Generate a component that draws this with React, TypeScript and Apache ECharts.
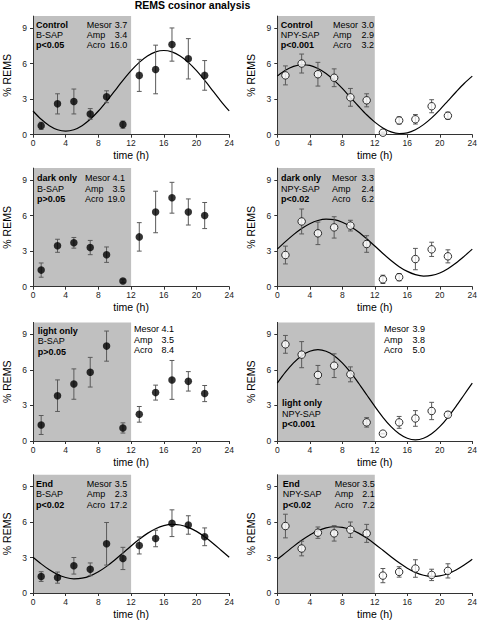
import React, { useEffect, useRef } from 'react';
import * as echarts from 'echarts';

// ---------- data ----------
const chartTitle = 'REMS cosinor analysis';
const xName = 'time (h)';
const yName = '% REMS';
const xTicks = [0, 4, 8, 12, 16, 20, 24];
const yTicks = [0, 3, 6, 9];
const sampleHours = [1, 3, 5, 7, 9, 11, 13, 15, 17, 19, 21];
const curveHours = [0, 1, 2, 3, 4, 5, 6, 7, 8, 9, 10, 11, 12, 13, 14, 15, 16, 17, 18, 19, 20, 21, 22, 23, 24];
const shadeStart = 0;
const shadeEnd = 12;

const panelNames = ['Control', 'Control', 'dark only', 'dark only', 'light only', 'light only', 'End', 'End'];
const treatments = ['B-SAP', 'NPY-SAP', 'B-SAP', 'NPY-SAP', 'B-SAP', 'NPY-SAP', 'B-SAP', 'NPY-SAP'];
const pValues = ['p<0.05', 'p<0.001', 'p>0.05', 'p<0.02', 'p>0.05', 'p<0.001', 'p<0.02', 'p<0.02'];
const statNames = ['Mesor', 'Amp', 'Acro'];
const mesors = ['3.7', '3.0', '4.1', '3.3', '4.1', '3.9', '3.5', '3.5'];
const amps = ['3.4', '2.9', '3.5', '2.4', '3.5', '3.8', '2.3', '2.1'];
const acros = ['16.0', '3.2', '19.0', '6.2', '8.4', '5.0', '17.2', '7.2'];

// Control
const controlBsapMean = [0.75, 2.6, 2.8, 1.75, 3.2, 0.85, 5.0, 5.5, 7.6, 6.4, 5.0];
const controlBsapSem = [0.3, 0.85, 1.05, 0.45, 0.5, 0.3, 1.35, 2.05, 1.4, 1.7, 1.25];
const controlBsapCurve = [2.0, 1.3, 0.76, 0.42, 0.3, 0.42, 0.76, 1.3, 2.0, 2.82, 3.7, 4.58, 5.4, 6.1, 6.64, 6.98, 7.1, 6.98, 6.64, 6.1, 5.4, 4.58, 3.7, 2.82, 2.0];
const controlNpyMean = [5.0, 6.0, 5.1, 4.8, 3.15, 2.9, 0.17, 1.2, 1.3, 2.4, 1.6];
const controlNpySem = [0.8, 0.8, 1.0, 0.75, 0.75, 0.55, 0.05, 0.3, 0.4, 0.55, 0.3];
const controlNpyCurve = [4.94, 5.43, 5.76, 5.9, 5.84, 5.58, 5.16, 4.58, 3.9, 3.15, 2.4, 1.68, 1.06, 0.57, 0.24, 0.1, 0.16, 0.42, 0.85, 1.42, 2.1, 2.85, 3.6, 4.32, 4.94];
// dark only
const darkBsapMean = [1.4, 3.45, 3.7, 3.3, 2.7, 0.48, 4.2, 6.3, 7.5, 6.3, 6.0];
const darkBsapSem = [0.6, 0.55, 0.45, 0.6, 0.65, 0.15, 1.2, 1.75, 1.3, 1.1, 1.1];
const darkNpyMean = [2.67, 5.5, 4.5, 5.0, 5.15, 3.6, 0.62, 0.8, 2.33, 3.15, 2.56];
const darkNpySem = [0.75, 1.05, 0.95, 0.9, 0.45, 0.7, 0.35, 0.3, 0.9, 0.6, 0.55];
const darkNpyCurve = [3.17, 3.8, 4.39, 4.91, 5.31, 5.58, 5.7, 5.65, 5.44, 5.08, 4.61, 4.04, 3.43, 2.8, 2.21, 1.69, 1.29, 1.02, 0.9, 0.95, 1.16, 1.52, 1.99, 2.56, 3.17];
// light only
const lightBsapMean = [1.35, 3.82, 4.8, 5.8, 8.0, 1.1, 2.25, 4.08, 5.15, 5.03, 4.0];
const lightBsapSem = [0.8, 1.33, 1.28, 1.25, 1.27, 0.43, 0.66, 0.63, 1.64, 0.82, 0.68];
const lightNpyMean = [8.15, 7.28, 5.57, 6.35, 5.62, 1.57, 0.62, 1.57, 1.9, 2.53, 2.22];
const lightNpySem = [0.75, 1.1, 0.8, 1.0, 0.63, 0.4, 0.03, 0.5, 0.66, 0.73, 0.25];
const lightNpyCurve = [4.88, 5.8, 6.59, 7.19, 7.57, 7.7, 7.57, 7.19, 6.59, 5.8, 4.88, 3.9, 2.92, 2.0, 1.21, 0.61, 0.23, 0.1, 0.23, 0.61, 1.21, 2.0, 2.92, 3.9, 4.88];
// End
const endBsapMean = [1.39, 1.3, 2.3, 2.0, 4.16, 2.92, 4.02, 4.61, 5.9, 5.75, 4.75];
const endBsapSem = [0.41, 0.47, 0.7, 0.54, 1.8, 0.94, 0.72, 0.7, 1.13, 0.78, 0.75];
const endBsapCurve = [3.02, 2.46, 1.96, 1.57, 1.31, 1.2, 1.25, 1.45, 1.79, 2.25, 2.79, 3.38, 3.98, 4.54, 5.04, 5.43, 5.69, 5.8, 5.75, 5.55, 5.21, 4.75, 4.21, 3.62, 3.02];
const endNpyMean = [5.66, 3.76, 5.1, 5.04, 5.35, 5.04, 1.47, 1.78, 2.07, 1.53, 1.87];
const endNpySem = [1.0, 0.62, 0.48, 0.65, 0.65, 0.76, 0.6, 0.44, 0.74, 0.48, 0.6];
const endNpyCurve = [2.85, 3.39, 3.94, 4.45, 4.9, 5.26, 5.5, 5.6, 5.55, 5.37, 5.06, 4.64, 4.15, 3.61, 3.06, 2.55, 2.1, 1.74, 1.5, 1.4, 1.45, 1.63, 1.94, 2.36, 2.85];

const panelMeans = [controlBsapMean, controlNpyMean, darkBsapMean, darkNpyMean, lightBsapMean, lightNpyMean, endBsapMean, endNpyMean];
const panelSems = [controlBsapSem, controlNpySem, darkBsapSem, darkNpySem, lightBsapSem, lightNpySem, endBsapSem, endNpySem];
const panelCurves: (number[] | null)[] = [controlBsapCurve, controlNpyCurve, null, darkNpyCurve, null, lightNpyCurve, endBsapCurve, endNpyCurve];

// ---------- layout ----------
const FONT = "'Liberation Sans', Arial, Helvetica, sans-serif";
const colLeft = [31.7, 277.3];
const gridW = 197.5;
const rowTop = [16.1, 168.1, 322.4, 474.7];
const gridH = 118.6;
// per-panel annotation offsets relative to grid: [labelDx, labelDy, statDx, statDy, valueRightDx]
const annot = [
  [4.3, 8.6, 55, 8.6, 95.5],
  [3.4, 8.6, 55.7, 8.6, 96.7],
  [5.3, 10.2, 53.3, 10.2, 93.3],
  [3.7, 10.2, 54.7, 10.2, 96.7],
  [6.0, 8.6, 102.3, 7.0, 142.3],
  [4.7, 81.0, 106.7, 7.0, 147.7],
  [4.3, 9.3, 55, 9.3, 95.6],
  [5.4, 9.3, 57.4, 9.3, 97.4],
];
const lineGap = 10.3;

function buildOption() {
  const grids: any[] = [];
  const xAxes: any[] = [];
  const yAxes: any[] = [];
  const series: any[] = [];
  const graphics: any[] = [];

  graphics.push({
    type: 'text', x: 192.5, y: 5, z: 10,
    style: { text: chartTitle, fontFamily: FONT, fontSize: 10.5, fontWeight: 'bold', fill: '#000', align: 'center', verticalAlign: 'middle' },
  });

  for (let i = 0; i < 8; i++) {
    const row = Math.floor(i / 2);
    const col = i % 2;
    const left = colLeft[col];
    const top = rowTop[row];
    grids.push({ left, top, width: gridW, height: gridH, containLabel: false });
    xAxes.push({
      type: 'value', gridIndex: i, min: 0, max: 24, interval: 4, z: 3,
      name: xName, nameLocation: 'middle', nameGap: 15,
      nameTextStyle: { fontFamily: FONT, fontSize: 10.5, color: '#000' },
      axisLine: { show: true, lineStyle: { color: '#333', width: 1 } },
      axisTick: { show: true, length: 3, customValues: xTicks, lineStyle: { color: '#333' } },
      axisLabel: { customValues: xTicks, fontFamily: FONT, fontSize: 8.5, color: '#222', margin: 4 },
      splitLine: { show: false },
    });
    yAxes.push({
      type: 'value', gridIndex: i, min: 0, max: 10, z: 3,
      name: yName, nameLocation: 'middle', nameRotate: 90, nameGap: 21,
      nameTextStyle: { fontFamily: FONT, fontSize: 10.5, color: '#000' },
      axisLine: { show: true, lineStyle: { color: '#333', width: 1 } },
      axisTick: { show: true, length: 3, customValues: yTicks, lineStyle: { color: '#333' } },
      axisLabel: { customValues: yTicks, fontFamily: FONT, fontSize: 8.5, color: '#222', margin: 6 },
      splitLine: { show: false },
    });

    // shaded dark period
    series.push({
      type: 'line', xAxisIndex: i, yAxisIndex: i, data: [], z: 1, silent: true,
      markArea: {
        silent: true,
        itemStyle: { color: '#c0c0c0' },
        data: [[{ xAxis: shadeStart, yAxis: 0 }, { xAxis: shadeEnd, yAxis: 10 }]],
      },
    });

    const curve = panelCurves[i];
    if (curve) {
      series.push({
        type: 'line', xAxisIndex: i, yAxisIndex: i, z: 4, smooth: 0.3, showSymbol: false, silent: true,
        lineStyle: { color: '#000', width: 1.2 },
        data: curveHours.map((h, k) => [h, curve[k]]),
      });
    }

    const mean = panelMeans[i];
    const sem = panelSems[i];
    series.push({
      type: 'custom', xAxisIndex: i, yAxisIndex: i, z: 5, silent: true,
      encode: { x: 0, y: [1, 2] },
      data: sampleHours.map((h, k) => [h, mean[k] - sem[k], mean[k] + sem[k]]),
      renderItem: (params: any, api: any) => {
        const lo = api.coord([api.value(0), api.value(1)]);
        const hi = api.coord([api.value(0), api.value(2)]);
        const w = 2.4;
        const style = { stroke: '#5a5a5a', lineWidth: 1 };
        return {
          type: 'group',
          children: [
            { type: 'line', shape: { x1: lo[0], y1: lo[1], x2: hi[0], y2: hi[1] }, style },
            { type: 'line', shape: { x1: lo[0] - w, y1: lo[1], x2: lo[0] + w, y2: lo[1] }, style },
            { type: 'line', shape: { x1: hi[0] - w, y1: hi[1], x2: hi[0] + w, y2: hi[1] }, style },
          ],
        };
      },
    });

    series.push({
      type: 'scatter', xAxisIndex: i, yAxisIndex: i, z: 6, silent: true,
      symbol: 'circle', symbolSize: 7.5,
      itemStyle: col === 0 ? { color: '#000' } : { color: '#fff', borderColor: '#000', borderWidth: 1 },
      data: sampleHours.map((h, k) => [h, mean[k]]),
    });

    // annotations
    const a = annot[i];
    const labelLines = [panelNames[i], treatments[i], pValues[i]];
    labelLines.forEach((t, k) => {
      graphics.push({
        type: 'text', x: left + a[0], y: top + a[1] + k * lineGap, z: 10,
        style: { text: t, fontFamily: FONT, fontSize: 9, fontWeight: k === 1 ? 'normal' : 'bold', fill: '#000', align: 'left', verticalAlign: 'middle' },
      });
    });
    const vals = [mesors[i], amps[i], acros[i]];
    statNames.forEach((s, k) => {
      graphics.push({
        type: 'text', x: left + a[2], y: top + a[3] + k * lineGap, z: 10,
        style: { text: s, fontFamily: FONT, fontSize: 9, fill: '#000', align: 'left', verticalAlign: 'middle' },
      });
      graphics.push({
        type: 'text', x: left + a[4], y: top + a[3] + k * lineGap, z: 10,
        style: { text: vals[k], fontFamily: FONT, fontSize: 9, fill: '#000', align: 'right', verticalAlign: 'middle' },
      });
    });
  }

  return {
    animation: false,
    backgroundColor: '#fff',
    textStyle: { fontFamily: FONT },
    grid: grids,
    xAxis: xAxes,
    yAxis: yAxes,
    series,
    graphic: graphics,
  };
}

export default function App() {
  const ref = useRef<HTMLDivElement>(null);
  useEffect(() => {
    if (!ref.current) return;
    const chart = echarts.init(ref.current, null, { renderer: 'svg' });
    chart.setOption(buildOption());
    return () => chart.dispose();
  }, []);
  return (
    <div
      ref={ref}
      style={{ position: 'absolute', left: 0, top: 0, width: 480, height: 620, background: '#fff' }}
    />
  );
}
